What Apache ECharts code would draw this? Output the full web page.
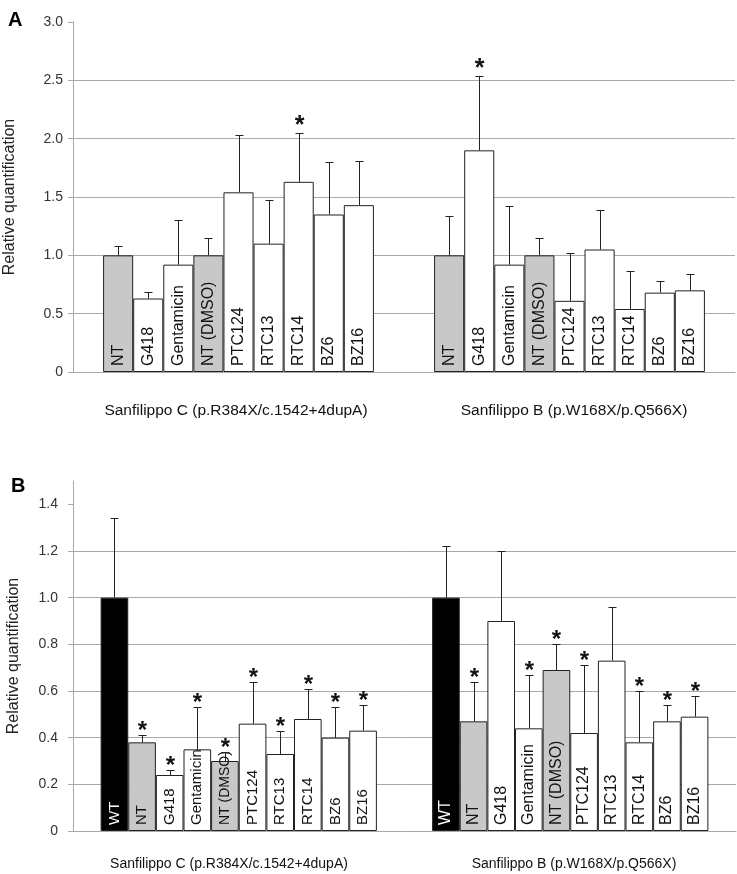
<!DOCTYPE html>
<html>
<head>
<meta charset="utf-8">
<script src="https://cdn.jsdelivr.net/npm/echarts@6/dist/echarts.min.js"></script>
<style>
html,body{margin:0;padding:0;background:#fff;}
#chart{width:737px;height:874px;}
</style>
</head>
<body>
<div id="chart"></div>
<script>
// ---------- data ----------
var panelLetters = ['A', 'B'];
var groupNames = ['Sanfilippo C (p.R384X/c.1542+4dupA)', 'Sanfilippo B (p.W168X/p.Q566X)'];
var yName = 'Relative quantification';

// Panel A
var catsA = ['NT', 'G418', 'Gentamicin', 'NT (DMSO)', 'PTC124', 'RTC13', 'RTC14', 'BZ6', 'BZ16'];
var A_C_mean = [1.00, 0.63, 0.92, 1.00, 1.54, 1.10, 1.63, 1.35, 1.43];
var A_C_sd   = [0.08, 0.06, 0.38, 0.15, 0.49, 0.37, 0.42, 0.45, 0.38];
var A_C_sig  = [0, 0, 0, 0, 0, 0, 1, 0, 0];
var A_B_mean = [1.00, 1.90, 0.92, 1.00, 0.61, 1.05, 0.54, 0.68, 0.70];
var A_B_sd   = [0.34, 0.64, 0.50, 0.15, 0.41, 0.34, 0.33, 0.10, 0.14];
var A_B_sig  = [0, 1, 0, 0, 0, 0, 0, 0, 0];
var A_ticks  = [0, 0.5, 1.0, 1.5, 2.0, 2.5, 3.0];

// Panel B
var catsB = ['WT', 'NT', 'G418', 'Gentamicin', 'NT (DMSO)', 'PTC124', 'RTC13', 'RTC14', 'BZ6', 'BZ16'];
var B_C_mean = [1.00, 0.38, 0.24, 0.35, 0.30, 0.46, 0.33, 0.48, 0.40, 0.43];
var B_C_sd   = [0.34, 0.03, 0.02, 0.18, 0.04, 0.18, 0.10, 0.13, 0.13, 0.11];
var B_C_sig  = [0, 1, 1, 1, 1, 1, 1, 1, 1, 1];
var B_B_mean = [1.00, 0.47, 0.90, 0.44, 0.69, 0.42, 0.73, 0.38, 0.47, 0.49];
var B_B_sd   = [0.22, 0.17, 0.30, 0.23, 0.11, 0.29, 0.23, 0.22, 0.07, 0.09];
var B_B_sig  = [0, 1, 0, 1, 1, 1, 0, 1, 1, 1];
var B_ticks  = [0, 0.2, 0.4, 0.6, 0.8, 1.0, 1.2, 1.4];

// ---------- styling ----------
var FONT = '"Liberation Sans", Arial, sans-serif';
var GRID_C = '#a9a9a9';
var EDGE = '#222';
var GRAY = '#c8c8c8';
function fillFor(name) {
  if (name === 'WT') return '#000';
  if (name === 'NT' || name === 'NT (DMSO)') return GRAY;
  return '#fff';
}

// Build category slots: pad, group1, pad, pad, group2, pad
function buildSlots(prefix, cats, m1, s1, g1, m2, s2, g2, fontSizes) {
  var keys = [], bars = [], errs = [];
  var idx = 0;
  function pad() { keys.push(prefix + 'pad' + idx); bars.push('-'); idx++; }
  function grp(gi, mean, sd, sig, fs) {
    for (var i = 0; i < cats.length; i++) {
      keys.push(prefix + gi + '_' + cats[i]);
      bars.push({
        value: mean[i],
        txt: cats[i],
        itemStyle: { color: fillFor(cats[i]) },
        label: { fontSize: fs[i], color: cats[i] === 'WT' ? '#fff' : '#111' }
      });
      errs.push([idx, mean[i], sd[i], sig[i]]);
      idx++;
    }
  }
  pad();
  grp(1, m1, s1, g1, fontSizes[0]);
  pad(); pad();
  grp(2, m2, s2, g2, fontSizes[1]);
  pad();
  return { keys: keys, bars: bars, errs: errs };
}

function fill(n, v) { var a = []; for (var i = 0; i < n; i++) a.push(v); return a; }

var slotsA = buildSlots('A', catsA, A_C_mean, A_C_sd, A_C_sig, A_B_mean, A_B_sd, A_B_sig,
  [fill(9, 16), fill(9, 16)]);
var fsB1 = fill(10, 15); fsB1[4] = 14;
var slotsB = buildSlots('B', catsB, B_C_mean, B_C_sd, B_C_sig, B_B_mean, B_B_sd, B_B_sig,
  [fsB1, fill(10, 16)]);

function errRender(starOffset, starSize) {
  return function (params, api) {
    var x = api.value(0), m = api.value(1), sd = api.value(2), sig = api.value(3);
    var p0 = api.coord([x, m]);
    var p1 = api.coord([x, m + sd]);
    var cx = Math.round(p0[0]) + 0.5;
    var cy = Math.round(p1[1]) + 0.5;
    var children = [
      { type: 'line', shape: { x1: cx, y1: p0[1], x2: cx, y2: cy }, style: { stroke: EDGE, lineWidth: 1 } },
      { type: 'line', shape: { x1: cx - 4, y1: cy, x2: cx + 4, y2: cy }, style: { stroke: EDGE, lineWidth: 1 } }
    ];
    if (sig) {
      children.push({ type: 'text', style: { text: '*', x: cx, y: cy - starOffset, align: 'center', verticalAlign: 'middle', fontSize: starSize, fontWeight: 'bold', fontFamily: FONT, fill: '#111' } });
    }
    return { type: 'group', children: children };
  };
}

function yAxisCfg(gi, max, interval, ticks, labelMargin, nameGap) {
  return {
    gridIndex: gi, type: 'value', min: 0, max: max, interval: interval,
    name: yName, nameLocation: 'middle', nameGap: nameGap,
    nameTextStyle: { fontSize: 16, fontFamily: FONT, color: '#222' },
    axisLine: { show: true, lineStyle: { color: GRID_C, width: 1 } },
    axisTick: { show: true, length: 5, lineStyle: { color: GRID_C }, customValues: ticks },
    axisLabel: { fontSize: 14, fontFamily: FONT, color: '#333', margin: labelMargin,
      customValues: ticks,
      formatter: function (v) { return v === 0 ? '0' : v.toFixed(1); } },
    splitLine: { show: true, showMinLine: false, showMaxLine: false, lineStyle: { color: GRID_C, width: 1 } }
  };
}

function xAxisCfg(gi, keys) {
  return {
    gridIndex: gi, type: 'category', data: keys,
    axisLine: { show: true, lineStyle: { color: GRID_C, width: 1 } },
    axisTick: { show: false }, axisLabel: { show: false }, splitLine: { show: false }
  };
}

function barSeries(gi, slots) {
  return {
    type: 'bar', xAxisIndex: gi, yAxisIndex: gi, data: slots.bars,
    barWidth: '100%', barCategoryGap: '0%', barGap: '0%',
    itemStyle: { borderColor: EDGE, borderWidth: 1 },
    label: { show: true, position: 'insideBottom', rotate: 90, align: 'left', verticalAlign: 'middle',
      distance: 6, fontFamily: FONT,
      formatter: function (p) { return p.data.txt; } },
    emphasis: { disabled: true }, animation: false, z: 2
  };
}

function errSeries(gi, slots, off, size) {
  return {
    type: 'custom', xAxisIndex: gi, yAxisIndex: gi, data: slots.errs,
    encode: { x: 0, y: 1 }, renderItem: errRender(off, size), clip: false, z: 3, animation: false, silent: true
  };
}

var chart = echarts.init(document.getElementById('chart'), null, { renderer: 'canvas' });
chart.setOption({
  backgroundColor: '#fff',
  animation: false,
  grid: [
    { left: 73, top: 22, width: 662, height: 350, outerBoundsMode: 'none', containLabel: false },
    { left: 73, top: 481, width: 663, height: 350, outerBoundsMode: 'none', containLabel: false }
  ],
  xAxis: [xAxisCfg(0, slotsA.keys), xAxisCfg(1, slotsB.keys)],
  yAxis: [yAxisCfg(0, 3.0, 0.5, A_ticks, 10, 55), yAxisCfg(1, 1.5, 0.2, B_ticks, 15, 51)],
  series: [
    barSeries(0, slotsA), errSeries(0, slotsA, 7, 25),
    barSeries(1, slotsB), errSeries(1, slotsB, 4, 24)
  ],
  graphic: [
    { type: 'text', left: 8, top: 10, style: { text: panelLetters[0], fontSize: 20, fontWeight: 'bold', fontFamily: FONT, fill: '#000' } },
    { type: 'text', left: 11, top: 476, style: { text: panelLetters[1], fontSize: 20, fontWeight: 'bold', fontFamily: FONT, fill: '#000' } },
    { type: 'text', x: 236, y: 411, style: { text: groupNames[0], align: 'center', verticalAlign: 'middle', fontSize: 15.5, fontFamily: FONT, fill: '#111' } },
    { type: 'text', x: 574, y: 411, style: { text: groupNames[1], align: 'center', verticalAlign: 'middle', fontSize: 15.5, fontFamily: FONT, fill: '#111' } },
    { type: 'text', x: 229, y: 864, style: { text: groupNames[0], align: 'center', verticalAlign: 'middle', fontSize: 14, fontFamily: FONT, fill: '#111' } },
    { type: 'text', x: 574, y: 864, style: { text: groupNames[1], align: 'center', verticalAlign: 'middle', fontSize: 14, fontFamily: FONT, fill: '#111' } }
  ]
});
</script>
</body>
</html>
